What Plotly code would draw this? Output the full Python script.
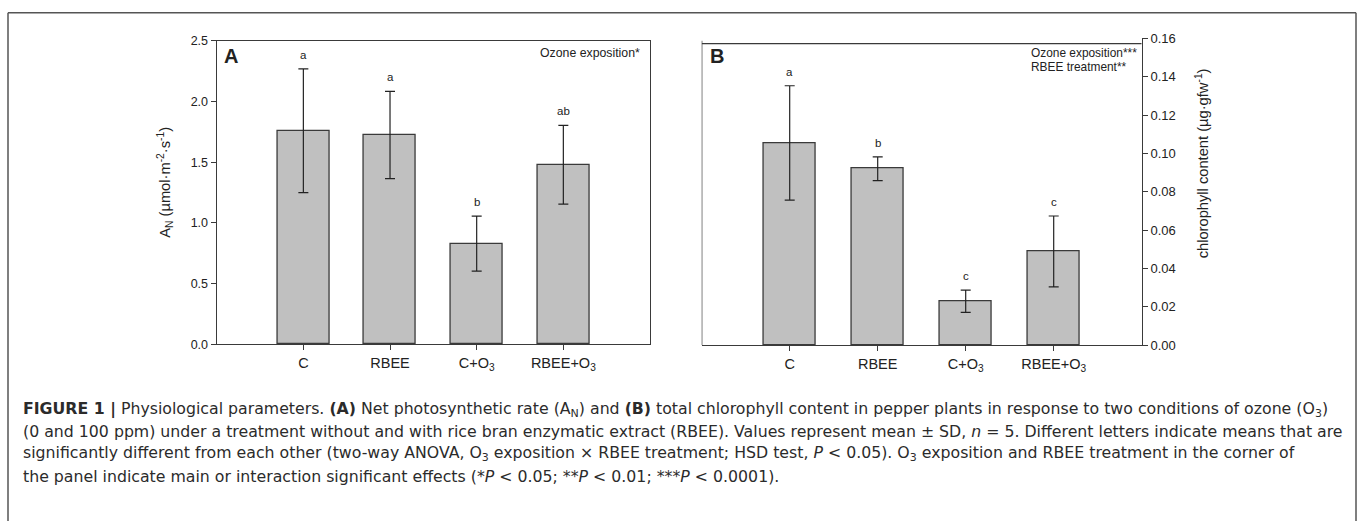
import plotly.graph_objects as go

# ---------------- data ----------------
categories = ["C", "RBEE", "C+O<sub>3</sub>", "RBEE+O<sub>3</sub>"]
an_mean = [1.76, 1.725, 0.83, 1.48]
an_sd = [0.51, 0.36, 0.227, 0.325]
an_letters = ["a", "a", "b", "ab"]
chl_mean = [0.1055, 0.092, 0.0229, 0.0489]
chl_sd = [0.0298, 0.0062, 0.0058, 0.0185]
chl_letters = ["a", "b", "c", "c"]
an_ticks = [0.0, 0.5, 1.0, 1.5, 2.0, 2.5]
chl_ticks = [0.00, 0.02, 0.04, 0.06, 0.08, 0.10, 0.12, 0.14, 0.16]

caption_lines = [
    "<b>FIGURE 1 |</b> Physiological parameters. <b>(A)</b> Net photosynthetic rate (A<sub>N</sub>) and <b>(B)</b> total chlorophyll content in pepper plants in response to two conditions of ozone (O<sub>3</sub>)",
    "(0 and 100 ppm) under a treatment without and with rice bran enzymatic extract (RBEE). Values represent mean ± SD, <i>n</i> = 5. Different letters indicate means that are",
    "significantly different from each other (two-way ANOVA, O<sub>3</sub> exposition × RBEE treatment; HSD test, <i>P</i> &lt; 0.05). O<sub>3</sub> exposition and RBEE treatment in the corner of",
    "the panel indicate main or interaction significant effects (*<i>P</i> &lt; 0.05; **<i>P</i> &lt; 0.01; ***<i>P</i> &lt; 0.0001).",
]

W, H = 1360, 521
FONT = "Liberation Sans, Arial, sans-serif"
CAP_FONT = "DejaVu Sans, sans-serif"
LINE = "#3a3a3a"
BAR = "#c0c0c0"

pos = list(range(1, len(categories) + 1))

def px(x):
    return x / W

def py(y):
    return 1 - y / H

fig = go.Figure()

err_style = dict(type="data", visible=True, color="#222222", thickness=1.2, width=5)

fig.add_trace(go.Bar(
    x=pos, y=an_mean, width=0.6, xaxis="x", yaxis="y",
    marker=dict(color=BAR, line=dict(color=LINE, width=1.3)),
    error_y=dict(array=an_sd, **err_style), showlegend=False,
))
fig.add_trace(go.Bar(
    x=pos, y=chl_mean, width=0.6, xaxis="x2", yaxis="y2",
    marker=dict(color=BAR, line=dict(color=LINE, width=1.3)),
    error_y=dict(array=chl_sd, **err_style), showlegend=False,
))

annotations = []
for p, m, s, t in zip(pos, an_mean, an_sd, an_letters):
    annotations.append(dict(x=p, y=m + s, xref="x", yref="y", text=t, showarrow=False,
                            xanchor="center", yanchor="middle", yshift=14,
                            font=dict(family=FONT, size=11.5, color="#222")))
for p, m, s, t in zip(pos, chl_mean, chl_sd, chl_letters):
    annotations.append(dict(x=p, y=m + s, xref="x2", yref="y2", text=t, showarrow=False,
                            xanchor="center", yanchor="middle", yshift=14,
                            font=dict(family=FONT, size=11.5, color="#222")))

def note(x, y, text, xanchor="center", size=12.3, angle=0):
    return dict(x=px(x), y=py(y), xref="paper", yref="paper", text=text, showarrow=False,
                xanchor=xanchor, yanchor="middle", textangle=angle,
                font=dict(family=FONT, size=size, color="#222"))

annotations += [
    note(231, 50, "<b>A</b>", size=20),
    note(717, 50, "<b>B</b>", size=20),
    note(642, 47, "Ozone exposition*", xanchor="right"),
    note(1029, 47.5, "Ozone exposition***", xanchor="left", size=11.9),
    note(1029, 61.5, "RBEE treatment**", xanchor="left", size=11.9),
    note(165, 181, "A<sub>N</sub> (µmol·m<sup>-2</sup>·s<sup>-1</sup>)", size=14.7, angle=-90),
    note(1202, 161, "chlorophyll content (µg·gfw<sup>-1</sup>)", size=14.7, angle=-90),
]

cap_y = [414.5, 437.5, 460, 483]
for yy, line in zip(cap_y, caption_lines):
    annotations.append(dict(x=px(21), y=py(yy), xref="paper", yref="paper", text=line,
                            showarrow=False, xanchor="left", yanchor="middle",
                            font=dict(family=CAP_FONT, size=15.75, color="#2b2b2b")))

shapes = [
    # outer border (open at bottom)
    dict(type="line", xref="paper", yref="paper", x0=px(8), x1=px(1356), y0=py(6), y1=py(6),
         line=dict(color="#555", width=1.5)),
    dict(type="line", xref="paper", yref="paper", x0=px(8), x1=px(8), y0=py(6), y1=-0.05,
         line=dict(color="#555", width=1.5)),
    dict(type="line", xref="paper", yref="paper", x0=px(1356), x1=px(1356), y0=py(6), y1=-0.05,
         line=dict(color="#555", width=1.5)),
    # panel B frame (left and top)
    dict(type="line", xref="x2", yref="y2", x0=0, x1=0, y0=0, y1=0.1587,
         line=dict(color=LINE, width=1.3)),
    dict(type="line", xref="x2", yref="y2", x0=0, x1=5, y0=0.1573, y1=0.1573,
         line=dict(color=LINE, width=1.3)),
]

axis_common = dict(showgrid=False, zeroline=False, showline=True, linecolor=LINE, linewidth=1.3,
                   ticks="outside", ticklen=5, tickcolor=LINE, tickwidth=1.2)

fig.update_layout(
    width=W, height=H, margin=dict(l=0, r=0, t=0, b=0),
    paper_bgcolor="white", plot_bgcolor="white",
    font=dict(family=FONT, color="#222"),
    bargap=0, showlegend=False,
    xaxis=dict(domain=[px(216.7), px(650)], range=[0, 5], tickvals=pos, ticktext=categories,
               mirror=True, anchor="y", tickfont=dict(size=14.5, color="#222"), **axis_common),
    yaxis=dict(domain=[py(347.3), py(35)], range=[0, 2.5], tickvals=an_ticks,
               ticktext=[f"{v:.1f}" for v in an_ticks], mirror=True, anchor="x",
               tickfont=dict(size=12.5, color="#222"), **axis_common),
    xaxis2=dict(domain=[px(701.7), px(1141.7)], range=[0, 5], tickvals=pos, ticktext=categories,
                anchor="y2", tickfont=dict(size=14.5, color="#222"), **axis_common),
    yaxis2=dict(domain=[py(348.3), py(32.3)], range=[0, 0.16], tickvals=chl_ticks,
                ticktext=[f"{v:.2f}" for v in chl_ticks], side="right", anchor="x2",
                tickfont=dict(size=13, color="#222"), **axis_common),
    annotations=annotations, shapes=shapes,
)

fig.write_html("out.html")
